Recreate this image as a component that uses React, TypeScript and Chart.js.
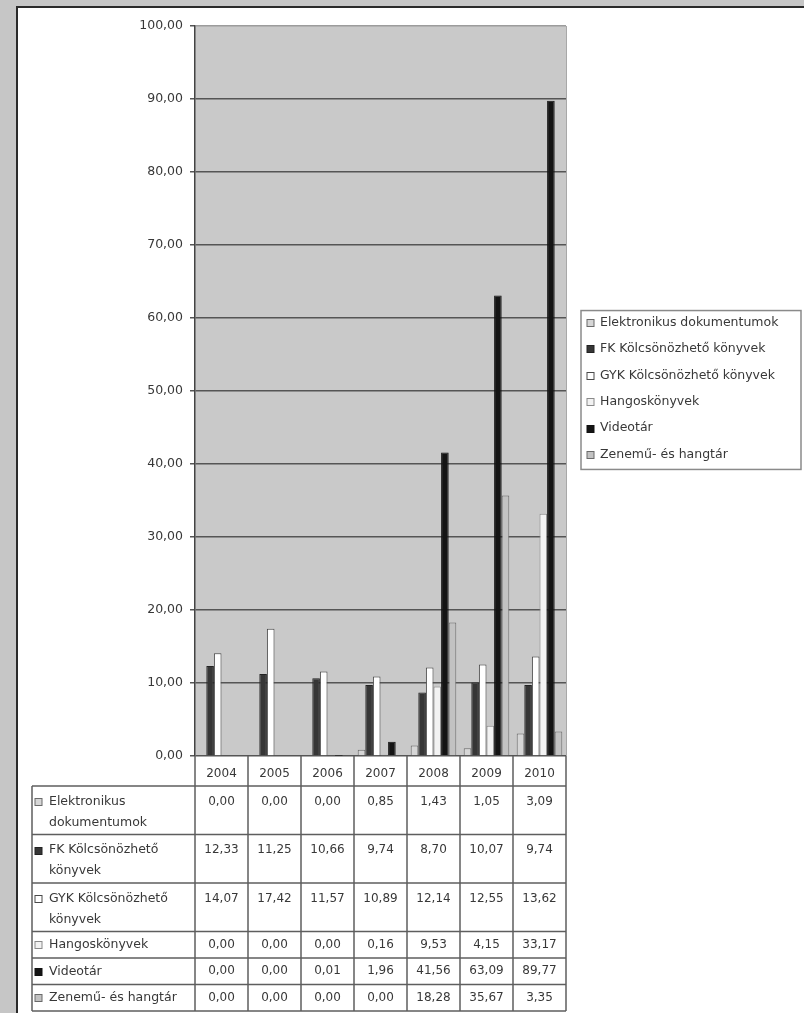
import React, { useEffect, useRef } from 'react';
import { Chart, registerables } from 'chart.js';

Chart.register(...registerables);

// ---- data ----
const years = ['2004', '2005', '2006', '2007', '2008', '2009', '2010'];
const seriesNames = [
  'Elektronikus dokumentumok',
  'FK Kölcsönözhető könyvek',
  'GYK Kölcsönözhető könyvek',
  'Hangoskönyvek',
  'Videotár',
  'Zenemű- és hangtár',
];
const tableLabelLines = [
  ['Elektronikus', 'dokumentumok'],
  ['FK Kölcsönözhető', 'könyvek'],
  ['GYK Kölcsönözhető', 'könyvek'],
  ['Hangoskönyvek'],
  ['Videotár'],
  ['Zenemű- és hangtár'],
];
const elektronikus = [0.0, 0.0, 0.0, 0.85, 1.43, 1.05, 3.09];
const fkKonyvek = [12.33, 11.25, 10.66, 9.74, 8.7, 10.07, 9.74];
const gykKonyvek = [14.07, 17.42, 11.57, 10.89, 12.14, 12.55, 13.62];
const hangoskonyvek = [0.0, 0.0, 0.0, 0.16, 9.53, 4.15, 33.17];
const videotar = [0.0, 0.0, 0.01, 1.96, 41.56, 63.09, 89.77];
const zenemu = [0.0, 0.0, 0.0, 0.0, 18.28, 35.67, 3.35];
const yMin = 0;
const yMax = 100;
const yStep = 10;

// ---- styles ----
const FONT = '"DejaVu Sans", sans-serif';
const TEXT = '#383838';
const fills = ['#d6d6d6', '#363636', '#ffffff', '#f2f2f2', '#141414', '#c2c2c2'];
const borders = ['#6a6a6a', '#222222', '#4a4a4a', '#8a8a8a', '#111111', '#6a6a6a'];

const fmt = (v: number) => v.toFixed(2).replace('.', ',');

const CANVAS_W = 786;
const CANVAS_H = 1005;

const plotBgPlugin = {
  id: 'plotBg',
  beforeDraw(chart: any) {
    const { ctx, chartArea: a } = chart;
    ctx.save();
    ctx.fillStyle = '#c9c9c9';
    ctx.fillRect(a.left, a.top, a.right - a.left, a.bottom - a.top);
    ctx.strokeStyle = '#a8a8a8';
    ctx.lineWidth = 1;
    ctx.beginPath();
    ctx.moveTo(a.right + 0.5, a.top);
    ctx.lineTo(a.right + 0.5, a.bottom);
    ctx.stroke();
    ctx.restore();
  },
};

const tablePlugin = {
  id: 'dataTable',
  afterDraw(chart: any) {
    const { ctx, chartArea: a } = chart;
    const xs = chart.scales.x;
    const n = years.length;
    const colW = (a.right - a.left) / n;
    const tableTop = a.bottom + 30;
    const tableLeft = 14;
    const rowH = tableLabelLines.map((l) => (l.length > 1 ? 48.5 : 26.5));
    const rowTops: number[] = [];
    let y = tableTop;
    rowH.forEach((h) => {
      rowTops.push(y);
      y += h;
    });
    const tableBottom = y;

    ctx.save();
    ctx.strokeStyle = '#5e5e5e';
    ctx.lineWidth = 1.5;
    for (let i = 0; i <= n; i++) {
      const x = a.left + i * colW;
      ctx.beginPath();
      ctx.moveTo(x, a.bottom);
      ctx.lineTo(x, tableBottom);
      ctx.stroke();
    }
    ctx.beginPath();
    ctx.moveTo(tableLeft, tableTop);
    ctx.lineTo(tableLeft, tableBottom);
    ctx.stroke();
    [...rowTops, tableBottom].forEach((ry) => {
      ctx.beginPath();
      ctx.moveTo(tableLeft, ry);
      ctx.lineTo(a.right, ry);
      ctx.stroke();
    });

    ctx.textBaseline = 'middle';
    chart.data.datasets.forEach((ds: any, r: number) => {
      const top = rowTops[r];
      const lines = tableLabelLines[r];
      const firstY = lines.length > 1 ? top + 15.5 : top + rowH[r] / 2;
      const my = Math.round(firstY - 3.5) + 0.5;
      ctx.fillStyle = ds.backgroundColor;
      ctx.fillRect(tableLeft + 3, my, 7, 7);
      ctx.strokeStyle = ds.borderColor;
      ctx.lineWidth = 1;
      ctx.strokeRect(tableLeft + 3, my, 7, 7);
      ctx.fillStyle = TEXT;
      ctx.font = `12.5px ${FONT}`;
      ctx.textAlign = 'left';
      lines.forEach((ln, k) => {
        ctx.fillText(ln, tableLeft + 17, firstY + k * 21);
      });
      ctx.font = `12px ${FONT}`;
      ctx.textAlign = 'center';
      ds.data.forEach((v: number, i: number) => {
        const cx = xs.getPixelForValue(i);
        ctx.fillText(fmt(v), cx, firstY);
      });
    });
    ctx.restore();
  },
};

const legendPlugin = {
  id: 'boxLegend',
  afterDraw(chart: any) {
    const { ctx, chartArea: a } = chart;
    const left = a.right + 15;
    const width = 220;
    const itemH = 26.4;
    const count = chart.data.datasets.length;
    const height = count * itemH + 0.5;
    const top = (a.top + a.bottom) / 2 - height / 2 - 1;
    ctx.save();
    ctx.strokeStyle = '#8a8a8a';
    ctx.lineWidth = 1.5;
    ctx.strokeRect(left, top, width, height);
    ctx.font = `12.5px ${FONT}`;
    ctx.textBaseline = 'middle';
    ctx.textAlign = 'left';
    chart.data.datasets.forEach((ds: any, i: number) => {
      const cy = top + 12 + i * itemH;
      const my = Math.round(cy - 3.5) + 0.5;
      ctx.fillStyle = ds.backgroundColor;
      ctx.fillRect(left + 6, my, 7, 7);
      ctx.strokeStyle = ds.borderColor;
      ctx.lineWidth = 1;
      ctx.strokeRect(left + 6, my, 7, 7);
      ctx.fillStyle = TEXT;
      ctx.fillText(ds.label, left + 19, cy);
    });
    ctx.restore();
  },
};

export default function App() {
  const ref = useRef<HTMLCanvasElement | null>(null);

  useEffect(() => {
    if (!ref.current) return;
    const seriesValues = [elektronikus, fkKonyvek, gykKonyvek, hangoskonyvek, videotar, zenemu];
    const chart = new Chart(ref.current, {
      type: 'bar',
      data: {
        labels: years,
        datasets: seriesNames.map((name, i) => ({
          label: name,
          data: seriesValues[i],
          backgroundColor: fills[i],
          borderColor: borders[i],
          borderWidth: 1,
          categoryPercentage: 0.86,
          barPercentage: 1,
        })),
      },
      options: {
        responsive: false,
        animation: false,
        devicePixelRatio: 1,
        layout: { padding: { top: 18, right: CANVAS_W - 548, bottom: 0, left: 0 } },
        plugins: {
          legend: { display: false },
          tooltip: { enabled: false },
        },
        scales: {
          x: {
            grid: { display: false },
            border: { display: false },
            ticks: {
              autoSkip: false,
              maxRotation: 0,
              padding: 3,
              color: TEXT,
              font: { family: FONT, size: 12 },
            },
            afterFit: (s: any) => {
              s.height = CANVAS_H - 748;
            },
          },
          y: {
            min: yMin,
            max: yMax,
            ticks: {
              stepSize: yStep,
              padding: 7,
              color: TEXT,
              font: { family: FONT, size: 12.5 },
              callback: (v: any) => fmt(Number(v)),
            },
            grid: {
              color: (c: any) => (c.tick && c.tick.value === yMax ? '#9c9c9c' : '#555555'),
              tickColor: '#555555',
              tickLength: 5,
              lineWidth: 1.5,
            },
            border: { display: true, color: '#444444', width: 1.5 },
            afterFit: (s: any) => {
              s.width = 177;
            },
          },
        },
      },
      plugins: [plotBgPlugin, tablePlugin, legendPlugin],
    });
    return () => chart.destroy();
  }, []);

  return (
    <div style={{ position: 'fixed', inset: 0, background: '#c6c6c6' }}>
      <div
        style={{
          position: 'absolute',
          left: 16,
          top: 6,
          right: 0,
          bottom: 0,
          background: '#ffffff',
          borderLeft: '2px solid #2a2a2a',
          borderTop: '2px solid #2a2a2a',
        }}
      >
        <canvas ref={ref} width={CANVAS_W} height={CANVAS_H} style={{ display: 'block' }} />
      </div>
    </div>
  );
}
